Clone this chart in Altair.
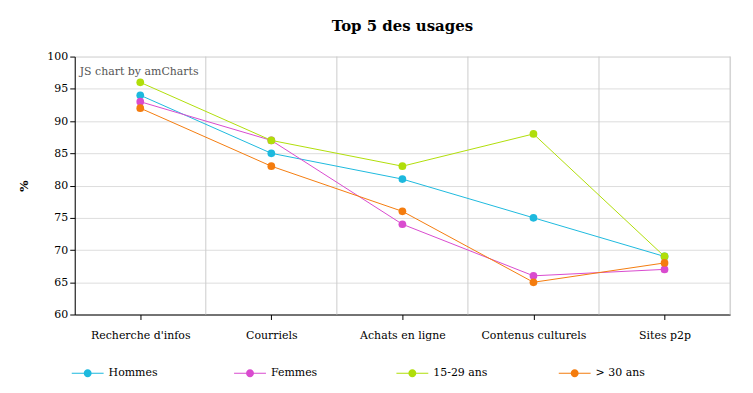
import json
import altair as alt
import pandas as pd

categories = ["Recherche d'infos", "Courriels", "Achats en ligne", "Contenus culturels", "Sites p2p"]
series_names = ["Hommes", "Femmes", "15-29 ans", "> 30 ans"]
hommes = [94, 85, 81, 75, 69]
femmes = [93, 87, 74, 66, 67]
jeunes = [96, 87, 83, 88, 69]
plus30 = [92, 83, 76, 65, 68]
colors = ["#1DB9DE", "#D94BCF", "#B0DE09", "#F47C0E"]

rows = []
for name, vals in zip(series_names, [hommes, femmes, jeunes, plus30]):
    for i, v in enumerate(vals):
        rows.append({"idx": i, "cat": categories[i], "serie": name, "val": v})
df = pd.DataFrame(rows)
bounds = pd.DataFrame({"b": [i + 0.5 for i in range(len(categories))]})

FONT = "DejaVu Serif"
n = len(categories)
xscale = alt.Scale(domain=[-0.5, n - 0.5], nice=False, zero=False)
yscale = alt.Scale(domain=[60, 100], nice=False, zero=False)

xaxis = alt.Axis(values=list(range(n)), labelExpr=json.dumps(categories) + "[datum.value]",
                 grid=False, title=None, labelAngle=0, labelFont=FONT, labelFontSize=11,
                 labelColor="#000", domainColor="#000", tickColor="#000", tickSize=5,
                 labelPadding=10, labelFlush=False)
yaxis = alt.Axis(values=list(range(60, 101, 5)), grid=True, gridColor="#dddddd",
                 title="%", titleFont=FONT, titleFontSize=12, titleFontWeight="bold",
                 titleColor="#000", titlePadding=16, labelFont=FONT, labelFontSize=11,
                 labelColor="#000", domainColor="#000", tickColor="#000", tickSize=5)

legend = alt.Legend(title=None, orient="none", legendX=-3, legendY=302,
                    direction="horizontal", columns=4, gridAlign="all",
                    columnPadding=71, labelFont=FONT, labelFontSize=11,
                    labelColor="#000", labelOffset=5, symbolSize=1024,
                    symbolStrokeWidth=0,
                    symbolType="M-1,-0.03H1V0.03H-1Z M0.25,0A0.25,0.25,0,1,1,-0.25,0A0.25,0.25,0,1,1,0.25,0Z")
color = alt.Color("serie:N", scale=alt.Scale(domain=series_names, range=colors), legend=legend)

grid = alt.Chart(bounds).mark_rule(color="#cccccc", strokeWidth=1).encode(
    x=alt.X("b:Q", scale=xscale, axis=xaxis)
)
lines = alt.Chart(df).mark_line(strokeWidth=1).encode(
    x=alt.X("idx:Q", scale=xscale, axis=xaxis),
    y=alt.Y("val:Q", scale=yscale, axis=yaxis),
    color=color,
)
points = alt.Chart(df).mark_point(filled=True, size=60, opacity=1).encode(
    x=alt.X("idx:Q", scale=xscale, axis=xaxis),
    y=alt.Y("val:Q", scale=yscale, axis=yaxis),
    color=color,
)
credit = alt.Chart(pd.DataFrame({"t": ["JS chart by amCharts"]})).mark_text(
    align="left", baseline="middle", font=FONT, fontSize=11, color="#555555"
).encode(x=alt.value(5), y=alt.value(16), text="t:N")

chart = alt.layer(grid, lines, points, credit).properties(
    width=658, height=259,
    title=alt.TitleParams("Top 5 des usages", font=FONT, fontSize=15, fontWeight="bold",
                          anchor="middle", color="#000", offset=17),
    padding={"left": 10, "top": 10, "right": 14, "bottom": 5},
).configure_view(stroke=None).configure(background="white")

chart.save("out.html", embed_options={"renderer": "svg", "actions": False})
